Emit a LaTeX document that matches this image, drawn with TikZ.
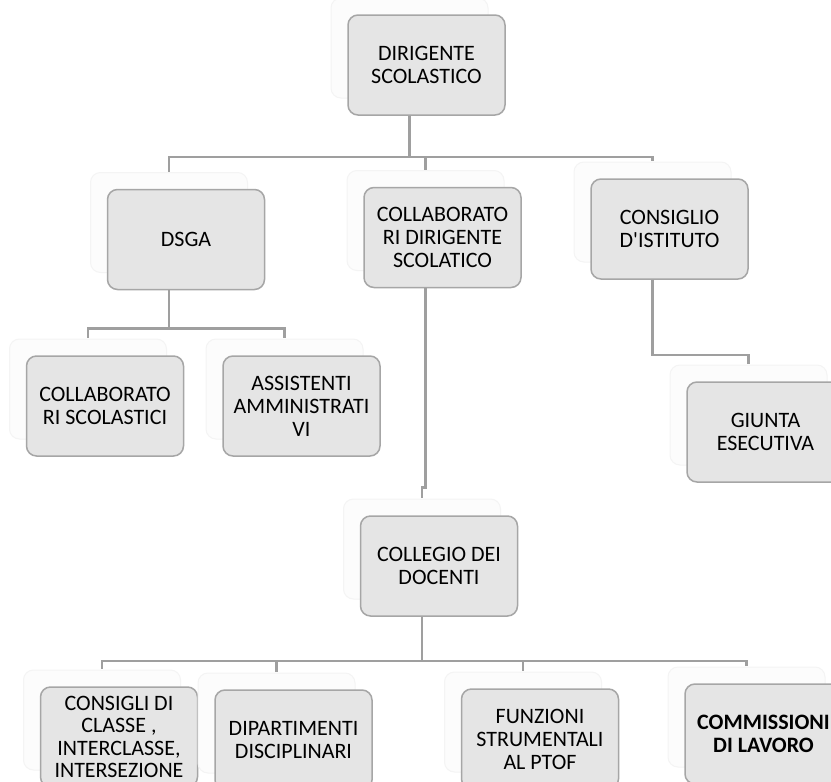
\documentclass[tikz,border=0pt]{standalone}
\usepackage{fontspec}
\setmainfont{Carlito}
\usepackage{tikz}
\usetikzlibrary{shadows}

\begin{document}
\begin{tikzpicture}[x=1pt, y=-1pt,
    box/.style={draw=gray!70, line width=1.5pt, fill=gray!20, rounded corners=10pt,
      minimum width=157pt, minimum height=100pt, inner sep=2pt, align=center,
      font=\fontsize{22}{23}\selectfont,
      general shadow={shadow xshift=-17pt, shadow yshift=17pt, fill=gray!2, draw=gray!9, line width=1pt}},
    link/.style={draw=gray!75, line width=2.5pt}]
    \useasboundingbox[fill=white] (0,0) rectangle (831,782);
    \clip (0,0) rectangle (831,782);

    \node[box] (dirigente) at (426.5,65) {DIRIGENTE\\SCOLASTICO};
    \node[box] (dsga) at (186,239.5) {DSGA};
    \node[box] (collabdir) at (442.5,237.5) {COLLABORATO\\RI DIRIGENTE\\SCOLATICO};
    \node[box] (consiglio) at (669.5,229) {CONSIGLIO\\D\textquotesingle ISTITUTO};
    \node[box] (collscol) at (105,406) {COLLABORATO\\RI SCOLASTICI};
    \node[box] (assist) at (301.5,406) {ASSISTENTI\\AMMINISTRATI\\VI};
    \node[box] (giunta) at (765.5,432) {GIUNTA\\ESECUTIVA};
    \node[box] (collegio) at (439,566) {COLLEGIO DEI\\DOCENTI};
    \node[box, font=\fontsize{22}{22.5}\selectfont] (consigli) at (119,737) {CONSIGLI DI\\CLASSE ,\\INTERCLASSE,\\INTERSEZIONE};
    \node[box] (dipart) at (293.5,740) {DIPARTIMENTI\\DISCIPLINARI};
    \node[box] (funzioni) at (540,739) {FUNZIONI\\STRUMENTALI\\AL PTOF};
    \node[box, font=\fontsize{22}{23}\selectfont\bfseries] (commiss) at (763.5,734) {COMMISSIONI\\DI LAVORO};

    \draw[link] ([xshift=-17]dirigente.south) -- ++(0,41) coordinate (busA);
    \draw[link] (busA) -| ([xshift=-17,yshift=17]dsga.north);
    \draw[link] (busA) -| ([xshift=-17,yshift=17]collabdir.north);
    \draw[link] (busA) -| ([xshift=-17,yshift=17]consiglio.north);

    \draw[link] ([xshift=-17]dsga.south) -- ++(0,38) coordinate (busB);
    \draw[link] (busB) -| ([xshift=-17,yshift=17]collscol.north);
    \draw[link] (busB) -| ([xshift=-17,yshift=17]assist.north);

    \draw[link] ([xshift=-17]consiglio.south) -- ++(0,75) -| ([xshift=-17,yshift=17]giunta.north);
    \draw[link] ([xshift=-17]collabdir.south) -- ++(0,199) -| ([xshift=-17,yshift=17]collegio.north);

    \draw[link] ([xshift=-17]collegio.south) -- ++(0,44) coordinate (busC);
    \draw[link] (busC) -| ([xshift=-17,yshift=17]consigli.north);
    \draw[link] (busC) -| ([xshift=-17,yshift=17]dipart.north);
    \draw[link] (busC) -| ([xshift=-17,yshift=17]funzioni.north);
    \draw[link] (busC) -| ([xshift=-17,yshift=17]commiss.north);
\end{tikzpicture}
\end{document}
